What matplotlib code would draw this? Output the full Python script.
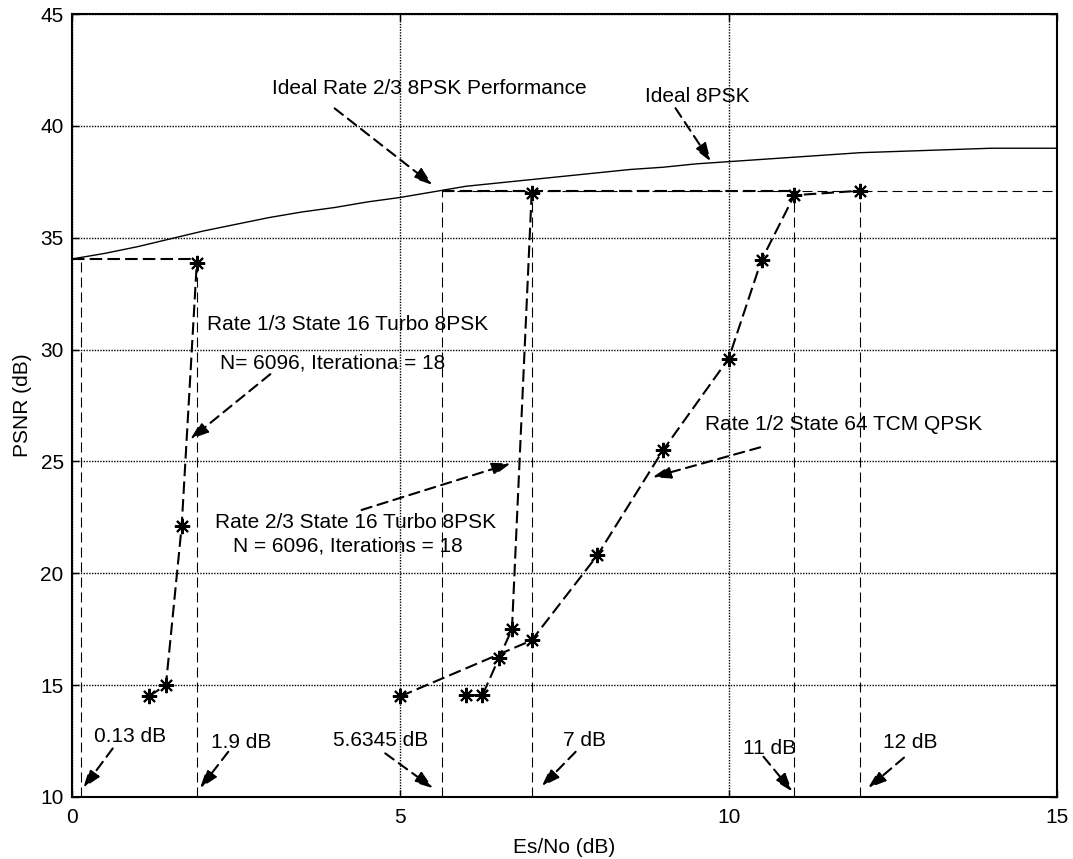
import matplotlib
matplotlib.use('Agg')
from matplotlib import pyplot as plt

# Ideal 8PSK PSNR curve
ideal_x = [0, 0.5, 1, 1.5, 2, 2.5, 3, 3.5, 4, 4.5, 5, 5.5, 6, 6.5, 7, 7.5,
           8, 8.5, 9, 9.5, 10, 10.5, 11, 11.5, 12, 12.5, 13, 13.5, 14, 14.5, 15]
ideal_psnr = [34.05, 34.3, 34.6, 34.95, 35.3, 35.6, 35.9, 36.15, 36.35, 36.6,
              36.8, 37.05, 37.3, 37.45, 37.6, 37.75, 37.9, 38.05, 38.15, 38.3,
              38.4, 38.5, 38.6, 38.7, 38.8, 38.85, 38.9, 38.95, 39.0, 39.0, 39.0]

# Rate 1/3 State 16 Turbo 8PSK
turbo13_x = [1.17, 1.43, 1.67, 1.9]
turbo13_psnr = [14.5, 15.0, 22.1, 33.85]

# Rate 2/3 State 16 Turbo 8PSK
turbo23_x = [6.0, 6.25, 6.5, 6.7, 7.0]
turbo23_psnr = [14.55, 14.55, 16.2, 17.5, 37.0]

# Rate 1/2 State 64 TCM QPSK
tcm_x = [5.0, 7.0, 8.0, 9.0, 10.0, 10.5, 11.0, 12.0]
tcm_psnr = [14.5, 17.0, 20.8, 25.5, 29.6, 34.0, 36.9, 37.1]

# threshold markers: (Es/No, PSNR reached)
thresholds = [0.13, 1.9, 5.6345, 7, 11, 12]
threshold_psnr = [34.05, 34.05, 37.1, 37.0, 36.9, 37.1]
threshold_labels = ['0.13 dB', '1.9 dB', '5.6345 dB', '7 dB', '11 dB', '12 dB']

plt.rcParams['font.family'] = ['Liberation Sans', 'DejaVu Sans']

fig = plt.figure(figsize=(10.73, 8.59), dpi=100)
ax = fig.add_axes([0.0671, 0.0722, 0.918, 0.9115])

dash = (0, (6, 2.5))
thin_dash = (0, (9, 4.5))

ax.plot(ideal_x, ideal_psnr, color='k', lw=1.0)

# reference levels
ax.plot([0, 1.9], [34.05, 34.05], color='k', lw=1.5, ls=dash)
ax.plot([5.6345, 11], [37.1, 37.1], color='k', lw=1.5, ls=dash)
ax.plot([5.6345, 15], [37.1, 37.1], color='k', lw=0.8, ls=thin_dash)
for x, top in zip(thresholds, threshold_psnr):
    ax.plot([x, x], [10, top], color='k', lw=0.8, ls=thin_dash)

star = (8, 2, 0)
for xs, ys in [(turbo13_x, turbo13_psnr), (turbo23_x, turbo23_psnr), (tcm_x, tcm_psnr)]:
    ax.plot(xs, ys, color='k', lw=1.5, ls=dash, marker=star, markersize=11,
            markeredgewidth=1.5)


def arrow(tail, head):
    ax.annotate('', xy=head, xytext=tail,
                arrowprops=dict(arrowstyle='-|>,head_length=1.1,head_width=0.38',
                                lw=1.5, ls=(0, (5, 3)), color='k',
                                shrinkA=0, shrinkB=0))


fs = 15
ax.text(3.05, 41.68, 'Ideal Rate 2/3 8PSK Performance', fontsize=fs, va='center')
arrow((4.0, 40.78), (5.49, 37.36))
ax.text(8.72, 41.3, 'Ideal 8PSK', fontsize=fs, va='center')
arrow((9.19, 40.79), (9.73, 38.4))
ax.text(2.05, 31.1, 'Rate 1/3 State 16 Turbo 8PSK', fontsize=fs, va='center')
ax.text(2.25, 29.38, 'N= 6096, Iterationa = 18', fontsize=fs, va='center')
arrow((3.02, 28.9), (1.80, 25.99))
ax.text(2.18, 22.26, 'Rate 2/3 State 16 Turbo 8PSK', fontsize=fs, va='center')
ax.text(2.45, 21.23, 'N = 6096, Iterations = 18', fontsize=fs, va='center')
arrow((4.41, 22.83), (6.68, 24.91))
ax.text(9.64, 26.63, 'Rate 1/2 State 64 TCM QPSK', fontsize=fs, va='center')
arrow((10.48, 25.63), (8.84, 24.29))

label_pos = [(0.34, 12.69), (2.12, 12.43), (3.97, 12.51), (7.47, 12.51), (10.22, 12.17), (12.35, 12.43)]
arrow_tails = [(0.62, 12.17), (2.38, 12.02), (4.77, 11.95), (7.67, 12.02), (10.53, 11.8), (12.67, 11.76)]
arrow_heads = [(0.17, 10.39), (1.95, 10.39), (5.50, 10.39), (7.15, 10.46), (10.97, 10.24), (12.12, 10.39)]
for lab, pos, t, h in zip(threshold_labels, label_pos, arrow_tails, arrow_heads):
    ax.text(pos[0], pos[1], lab, fontsize=fs, va='center')
    arrow(t, h)

ax.set_xlim(0, 15)
ax.set_ylim(10, 45)
ax.set_xticks([0, 5, 10, 15])
ax.set_yticks(range(10, 46, 5))
ax.grid(True, color='k', lw=1.0, ls=(0, (1, 1)))
ax.tick_params(direction='in', top=True, right=True, length=5, width=1, labelsize=15)
ax.tick_params(axis='y', pad=6)
ax.tick_params(axis='x', pad=8)
for s in ax.spines.values():
    s.set_linewidth(1.5)
ax.set_xlabel('Es/No (dB)', fontsize=15, labelpad=8)
ax.set_ylabel('PSNR (dB)', fontsize=15, labelpad=6)

fig.savefig('out.png', dpi=100)
